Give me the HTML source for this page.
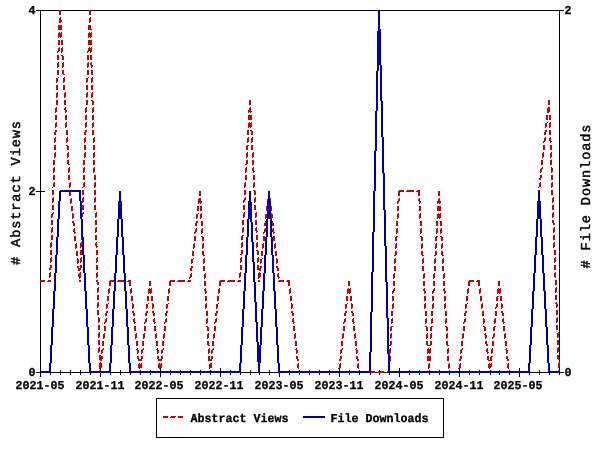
<!DOCTYPE html>
<html><head><meta charset="utf-8"><title>Usage statistics</title>
<style>
html,body{margin:0;padding:0;background:#fff;overflow:hidden}
svg{display:block}
text{font-family:"Liberation Mono","DejaVu Sans Mono",monospace;font-weight:bold;fill:#000;text-rendering:geometricPrecision;stroke:#000;stroke-width:0.3px}
text.t{font-weight:normal;stroke:#000;stroke-width:0.45px}
</style></head>
<body>
<svg width="600" height="450" viewBox="0 0 600 450">
<rect width="600" height="450" fill="#fff"/>
<g shape-rendering="crispEdges">
<path fill="#000000" d="M36 10h528v1h-528zM40 11h1v180h-1zM559 11h1v361h-1zM36 191h9v1h-9zM40 192h1v180h-1zM100 368h1v4h-1zM160 368h1v4h-1zM220 368h1v4h-1zM279 368h1v4h-1zM339 368h1v4h-1zM399 368h1v4h-1zM459 368h1v4h-1zM519 368h1v4h-1zM50 370h1v2h-1zM60 370h1v2h-1zM70 370h1v2h-1zM80 370h1v2h-1zM90 370h1v2h-1zM110 370h1v2h-1zM120 370h1v2h-1zM130 370h1v2h-1zM140 370h1v2h-1zM150 370h1v2h-1zM170 370h1v2h-1zM180 370h1v2h-1zM190 370h1v2h-1zM200 370h1v2h-1zM210 370h1v2h-1zM230 370h1v2h-1zM240 370h1v2h-1zM250 370h1v2h-1zM259 370h1v2h-1zM269 370h1v2h-1zM289 370h1v2h-1zM299 370h1v2h-1zM309 370h1v2h-1zM319 370h1v2h-1zM329 370h1v2h-1zM349 370h1v2h-1zM359 370h1v2h-1zM370 370h1v2h-1zM379 370h1v2h-1zM389 370h1v2h-1zM409 370h1v2h-1zM419 370h1v2h-1zM429 370h1v2h-1zM439 370h1v2h-1zM449 370h1v2h-1zM469 370h1v2h-1zM479 370h1v2h-1zM490 370h1v2h-1zM499 370h1v2h-1zM509 370h1v2h-1zM529 370h1v2h-1zM539 370h1v2h-1zM549 370h1v2h-1zM36 372h528v1h-528zM40 373h1v4h-1zM50 373h1v2h-1zM60 373h1v2h-1zM70 373h1v2h-1zM80 373h1v2h-1zM90 373h1v2h-1zM100 373h1v4h-1zM110 373h1v2h-1zM120 373h1v2h-1zM130 373h1v2h-1zM140 373h1v2h-1zM150 373h1v2h-1zM160 373h1v4h-1zM170 373h1v2h-1zM180 373h1v2h-1zM190 373h1v2h-1zM200 373h1v2h-1zM210 373h1v2h-1zM220 373h1v4h-1zM230 373h1v2h-1zM240 373h1v2h-1zM250 373h1v2h-1zM259 373h1v2h-1zM269 373h1v2h-1zM279 373h1v4h-1zM289 373h1v2h-1zM299 373h1v2h-1zM309 373h1v2h-1zM319 373h1v2h-1zM329 373h1v2h-1zM339 373h1v4h-1zM349 373h1v2h-1zM359 373h1v2h-1zM370 373h1v2h-1zM379 373h1v2h-1zM389 373h1v2h-1zM399 373h1v4h-1zM409 373h1v2h-1zM419 373h1v2h-1zM429 373h1v2h-1zM439 373h1v2h-1zM449 373h1v2h-1zM459 373h1v4h-1zM469 373h1v2h-1zM479 373h1v2h-1zM490 373h1v2h-1zM499 373h1v2h-1zM509 373h1v2h-1zM519 373h1v4h-1zM529 373h1v2h-1zM539 373h1v2h-1zM549 373h1v2h-1zM559 373h1v2h-1zM156 398h288v1h-288zM156 399h1v38h-1zM443 399h1v38h-1zM156 437h288v1h-288z"/>
<path fill="#cc0000" d="M59 10h2v5h-2zM89 10h2v5h-2zM60 17h1v1h-1zM90 17h1v1h-1zM59 18h2v2h-2zM89 18h2v4h-2zM59 20h3v2h-3zM59 22h2v1h-2zM89 22h1v1h-1zM58 25h4v5h-4zM88 25h3v4h-3zM88 29h4v1h-4zM59 32h1v1h-1zM61 32h1v1h-1zM89 32h1v1h-1zM91 32h1v1h-1zM58 33h4v4h-4zM88 33h4v4h-4zM58 37h1v1h-1zM60 37h1v1h-1zM88 37h1v1h-1zM90 37h1v1h-1zM58 40h2v5h-2zM61 40h2v5h-2zM88 40h4v5h-4zM59 47h1v1h-1zM62 47h1v1h-1zM89 47h1v1h-1zM91 47h1v1h-1zM58 48h2v3h-2zM61 48h2v4h-2zM88 48h4v3h-4zM57 51h2v1h-2zM87 51h2v1h-2zM90 51h2v1h-2zM57 52h1v1h-1zM61 52h1v1h-1zM87 52h1v1h-1zM90 52h1v1h-1zM57 55h2v5h-2zM61 55h2v1h-2zM87 55h2v5h-2zM90 55h2v5h-2zM62 56h2v4h-2zM58 62h1v1h-1zM63 62h1v1h-1zM88 62h1v1h-1zM91 62h1v1h-1zM57 63h2v4h-2zM62 63h2v4h-2zM87 63h2v4h-2zM90 63h2v2h-2zM91 65h2v2h-2zM57 67h1v1h-1zM62 67h1v1h-1zM87 67h1v1h-1zM91 67h1v1h-1zM57 70h2v5h-2zM62 70h2v4h-2zM87 70h2v5h-2zM91 70h2v5h-2zM63 74h2v1h-2zM58 77h1v1h-1zM64 77h1v1h-1zM88 77h1v1h-1zM92 77h1v1h-1zM56 78h2v4h-2zM63 78h2v4h-2zM86 78h2v4h-2zM91 78h2v4h-2zM56 82h1v1h-1zM63 82h1v1h-1zM86 82h1v1h-1zM91 82h1v1h-1zM56 85h2v5h-2zM63 85h2v5h-2zM86 85h2v5h-2zM91 85h2v5h-2zM57 92h1v1h-1zM65 92h1v1h-1zM87 92h1v1h-1zM92 92h1v1h-1zM56 93h2v4h-2zM64 93h2v4h-2zM86 93h2v4h-2zM91 93h2v4h-2zM56 97h1v1h-1zM64 97h1v1h-1zM86 97h1v1h-1zM91 97h1v1h-1zM56 100h2v5h-2zM64 100h2v5h-2zM86 100h2v5h-2zM91 100h2v1h-2zM249 100h2v5h-2zM548 100h2v5h-2zM92 101h2v4h-2zM56 107h1v1h-1zM65 107h1v1h-1zM86 107h1v1h-1zM93 107h1v1h-1zM250 107h1v1h-1zM548 107h2v1h-2zM55 108h2v4h-2zM64 108h2v2h-2zM85 108h2v4h-2zM92 108h2v4h-2zM249 108h2v2h-2zM547 108h3v4h-3zM65 110h2v2h-2zM248 110h3v1h-3zM248 111h4v1h-4zM55 112h1v1h-1zM65 112h1v1h-1zM85 112h1v1h-1zM92 112h1v1h-1zM248 112h1v1h-1zM250 112h1v1h-1zM547 112h2v1h-2zM55 115h2v5h-2zM65 115h2v5h-2zM85 115h2v5h-2zM92 115h2v5h-2zM248 115h4v5h-4zM546 115h2v5h-2zM549 115h2v5h-2zM56 122h1v1h-1zM66 122h1v1h-1zM86 122h1v1h-1zM93 122h1v1h-1zM249 122h1v1h-1zM251 122h1v1h-1zM547 122h1v1h-1zM550 122h1v1h-1zM55 123h2v4h-2zM65 123h2v4h-2zM85 123h2v4h-2zM92 123h2v4h-2zM248 123h4v4h-4zM545 123h2v4h-2zM549 123h2v4h-2zM55 127h1v1h-1zM65 127h1v1h-1zM85 127h1v1h-1zM92 127h1v1h-1zM248 127h1v1h-1zM250 127h1v1h-1zM545 127h1v1h-1zM549 127h1v1h-1zM55 130h2v2h-2zM66 130h2v5h-2zM85 130h2v2h-2zM92 130h2v5h-2zM247 130h2v5h-2zM250 130h2v1h-2zM545 130h2v2h-2zM549 130h2v5h-2zM251 131h2v4h-2zM54 132h2v3h-2zM84 132h2v3h-2zM544 132h2v3h-2zM55 137h1v1h-1zM67 137h1v1h-1zM85 137h1v1h-1zM94 137h1v1h-1zM248 137h1v1h-1zM252 137h1v1h-1zM545 137h1v1h-1zM550 137h1v1h-1zM54 138h2v4h-2zM66 138h2v4h-2zM84 138h2v4h-2zM93 138h2v4h-2zM247 138h2v4h-2zM251 138h2v4h-2zM544 138h2v3h-2zM549 138h2v3h-2zM543 141h2v1h-2zM550 141h2v1h-2zM54 142h1v1h-1zM66 142h1v1h-1zM84 142h1v1h-1zM93 142h1v1h-1zM247 142h1v1h-1zM251 142h1v1h-1zM543 142h1v1h-1zM550 142h1v1h-1zM54 145h2v5h-2zM66 145h2v1h-2zM84 145h2v5h-2zM93 145h2v5h-2zM247 145h2v1h-2zM251 145h2v5h-2zM543 145h2v5h-2zM550 145h2v5h-2zM67 146h2v4h-2zM246 146h2v4h-2zM55 152h1v1h-1zM68 152h1v1h-1zM85 152h1v1h-1zM94 152h1v1h-1zM247 152h1v1h-1zM253 152h1v1h-1zM543 152h1v1h-1zM551 152h1v1h-1zM54 153h2v4h-2zM67 153h2v4h-2zM84 153h2v4h-2zM93 153h2v4h-2zM246 153h2v4h-2zM252 153h2v4h-2zM542 153h2v4h-2zM550 153h2v4h-2zM54 157h1v1h-1zM67 157h1v1h-1zM84 157h1v1h-1zM93 157h1v1h-1zM246 157h1v1h-1zM252 157h1v1h-1zM542 157h1v1h-1zM550 157h1v1h-1zM53 160h2v5h-2zM67 160h2v4h-2zM83 160h2v5h-2zM93 160h2v5h-2zM246 160h2v4h-2zM252 160h2v5h-2zM541 160h2v5h-2zM550 160h2v5h-2zM68 164h2v1h-2zM245 164h2v1h-2zM54 167h1v1h-1zM69 167h1v1h-1zM84 167h1v1h-1zM94 167h1v1h-1zM246 167h1v1h-1zM253 167h1v1h-1zM542 167h1v1h-1zM551 167h1v1h-1zM53 168h2v4h-2zM68 168h2v4h-2zM83 168h2v4h-2zM93 168h2v4h-2zM245 168h2v4h-2zM252 168h2v3h-2zM541 168h2v1h-2zM551 168h2v4h-2zM540 169h2v3h-2zM253 171h2v1h-2zM53 172h1v1h-1zM68 172h1v1h-1zM83 172h1v1h-1zM93 172h1v1h-1zM245 172h1v1h-1zM253 172h1v1h-1zM540 172h1v1h-1zM551 172h1v1h-1zM53 175h2v5h-2zM68 175h2v5h-2zM83 175h2v5h-2zM94 175h2v5h-2zM245 175h2v5h-2zM253 175h2v5h-2zM540 175h2v3h-2zM551 175h2v5h-2zM539 178h2v2h-2zM54 182h1v1h-1zM70 182h1v1h-1zM84 182h1v1h-1zM95 182h1v1h-1zM245 182h1v1h-1zM254 182h1v1h-1zM540 182h1v1h-1zM552 182h1v1h-1zM53 183h2v4h-2zM69 183h2v4h-2zM83 183h2v4h-2zM94 183h2v4h-2zM244 183h2v4h-2zM253 183h2v4h-2zM539 183h2v4h-2zM551 183h2v4h-2zM52 187h1v1h-1zM69 187h1v1h-1zM82 187h1v1h-1zM94 187h1v1h-1zM244 187h1v1h-1zM253 187h1v1h-1zM538 187h1v1h-1zM551 187h1v1h-1zM52 190h2v5h-2zM69 190h2v6h-2zM82 190h2v5h-2zM94 190h2v5h-2zM244 190h2v5h-2zM253 190h2v1h-2zM399 190h5v1h-5zM407 190h7v1h-7zM417 190h3v1h-3zM538 190h2v6h-2zM551 190h2v5h-2zM199 191h2v5h-2zM254 191h2v4h-2zM268 191h2v5h-2zM398 191h6v1h-6zM406 191h8v1h-8zM416 191h4v1h-4zM438 191h2v5h-2zM398 192h2v4h-2zM418 192h2v4h-2zM53 197h1v1h-1zM83 197h1v1h-1zM95 197h1v1h-1zM245 197h1v1h-1zM255 197h1v1h-1zM553 197h1v1h-1zM52 198h2v4h-2zM71 198h1v1h-1zM82 198h2v4h-2zM94 198h2v4h-2zM199 198h2v1h-2zM244 198h2v2h-2zM254 198h2v4h-2zM268 198h1v1h-1zM270 198h1v1h-1zM399 198h1v1h-1zM419 198h1v1h-1zM439 198h1v1h-1zM539 198h1v1h-1zM552 198h2v4h-2zM70 199h2v4h-2zM198 199h3v2h-3zM267 199h4v4h-4zM398 199h2v2h-2zM418 199h2v2h-2zM438 199h2v2h-2zM538 199h2v2h-2zM243 200h2v2h-2zM198 201h4v2h-4zM397 201h2v2h-2zM419 201h2v2h-2zM437 201h4v2h-4zM537 201h2v2h-2zM52 202h1v1h-1zM82 202h1v1h-1zM94 202h1v1h-1zM243 202h1v1h-1zM254 202h1v1h-1zM552 202h1v1h-1zM70 203h1v1h-1zM198 203h1v1h-1zM200 203h1v1h-1zM267 203h1v1h-1zM269 203h1v1h-1zM397 203h1v1h-1zM419 203h1v1h-1zM437 203h1v1h-1zM439 203h1v1h-1zM537 203h1v1h-1zM52 205h2v5h-2zM82 205h2v5h-2zM94 205h2v5h-2zM243 205h2v5h-2zM254 205h2v5h-2zM552 205h2v5h-2zM71 206h2v5h-2zM197 206h2v5h-2zM200 206h2v5h-2zM266 206h2v5h-2zM270 206h2v5h-2zM397 206h2v5h-2zM419 206h2v5h-2zM437 206h4v5h-4zM537 206h2v5h-2zM53 212h1v1h-1zM83 212h1v1h-1zM96 212h1v1h-1zM244 212h1v1h-1zM256 212h1v1h-1zM553 212h1v1h-1zM52 213h2v1h-2zM72 213h1v1h-1zM82 213h2v1h-2zM95 213h2v4h-2zM198 213h1v1h-1zM201 213h1v1h-1zM243 213h2v4h-2zM255 213h2v4h-2zM267 213h1v1h-1zM271 213h1v1h-1zM398 213h1v1h-1zM420 213h1v1h-1zM438 213h1v1h-1zM440 213h1v1h-1zM538 213h1v1h-1zM552 213h2v4h-2zM51 214h2v3h-2zM72 214h2v4h-2zM81 214h2v3h-2zM196 214h2v4h-2zM200 214h2v4h-2zM265 214h2v4h-2zM271 214h2v4h-2zM397 214h2v4h-2zM419 214h2v4h-2zM437 214h4v4h-4zM537 214h2v4h-2zM51 217h1v1h-1zM81 217h1v1h-1zM95 217h1v1h-1zM243 217h1v1h-1zM255 217h1v1h-1zM552 217h1v1h-1zM72 218h1v1h-1zM196 218h1v1h-1zM200 218h1v1h-1zM265 218h1v1h-1zM271 218h1v1h-1zM397 218h1v1h-1zM419 218h1v1h-1zM437 218h1v1h-1zM439 218h1v1h-1zM537 218h1v1h-1zM51 220h2v5h-2zM81 220h2v5h-2zM95 220h2v5h-2zM242 220h2v5h-2zM255 220h2v5h-2zM552 220h2v3h-2zM72 221h2v2h-2zM196 221h2v2h-2zM201 221h2v5h-2zM265 221h2v2h-2zM271 221h2v2h-2zM396 221h2v5h-2zM420 221h2v5h-2zM436 221h2v5h-2zM440 221h2v5h-2zM536 221h2v5h-2zM73 223h2v3h-2zM195 223h2v3h-2zM264 223h2v3h-2zM272 223h2v3h-2zM553 223h2v2h-2zM52 227h1v1h-1zM82 227h1v1h-1zM96 227h1v1h-1zM243 227h1v1h-1zM256 227h1v1h-1zM554 227h1v1h-1zM51 228h2v4h-2zM74 228h1v1h-1zM81 228h2v4h-2zM95 228h2v4h-2zM196 228h1v1h-1zM202 228h1v1h-1zM242 228h2v4h-2zM255 228h2v3h-2zM265 228h1v1h-1zM273 228h1v1h-1zM397 228h1v1h-1zM421 228h1v1h-1zM437 228h1v1h-1zM441 228h1v1h-1zM537 228h1v1h-1zM553 228h2v4h-2zM73 229h2v3h-2zM195 229h2v3h-2zM201 229h2v4h-2zM264 229h2v3h-2zM272 229h2v3h-2zM396 229h2v4h-2zM420 229h2v4h-2zM436 229h2v4h-2zM440 229h2v4h-2zM536 229h2v4h-2zM256 231h2v1h-2zM51 232h1v1h-1zM74 232h2v1h-2zM81 232h1v1h-1zM95 232h1v1h-1zM194 232h2v1h-2zM242 232h1v1h-1zM256 232h1v1h-1zM263 232h2v1h-2zM273 232h2v1h-2zM553 232h1v1h-1zM74 233h1v1h-1zM194 233h1v1h-1zM201 233h1v1h-1zM263 233h1v1h-1zM273 233h1v1h-1zM396 233h1v1h-1zM420 233h1v1h-1zM436 233h1v1h-1zM440 233h1v1h-1zM536 233h1v1h-1zM51 235h2v5h-2zM81 235h2v5h-2zM95 235h2v5h-2zM242 235h2v1h-2zM256 235h2v5h-2zM553 235h2v5h-2zM74 236h2v5h-2zM194 236h2v5h-2zM201 236h2v1h-2zM241 236h2v4h-2zM263 236h2v5h-2zM273 236h2v5h-2zM396 236h2v1h-2zM420 236h2v1h-2zM436 236h2v1h-2zM440 236h2v1h-2zM536 236h2v1h-2zM202 237h2v4h-2zM395 237h2v4h-2zM421 237h2v4h-2zM435 237h2v4h-2zM441 237h2v4h-2zM535 237h2v4h-2zM51 242h1v1h-1zM81 242h1v1h-1zM96 242h1v1h-1zM242 242h1v1h-1zM257 242h1v1h-1zM554 242h1v1h-1zM50 243h2v4h-2zM76 243h1v1h-1zM80 243h2v4h-2zM95 243h2v3h-2zM194 243h1v1h-1zM203 243h1v1h-1zM241 243h2v4h-2zM256 243h2v4h-2zM263 243h1v1h-1zM275 243h1v1h-1zM396 243h1v1h-1zM422 243h1v1h-1zM436 243h1v1h-1zM442 243h1v1h-1zM536 243h1v1h-1zM553 243h2v4h-2zM75 244h2v4h-2zM193 244h2v4h-2zM202 244h2v4h-2zM262 244h2v4h-2zM274 244h2v4h-2zM395 244h2v4h-2zM421 244h2v4h-2zM435 244h2v4h-2zM441 244h2v4h-2zM535 244h2v4h-2zM96 246h2v1h-2zM50 247h1v1h-1zM80 247h1v1h-1zM96 247h1v1h-1zM241 247h1v1h-1zM256 247h1v1h-1zM553 247h1v1h-1zM75 248h1v1h-1zM193 248h1v1h-1zM202 248h1v1h-1zM262 248h1v1h-1zM274 248h1v1h-1zM395 248h1v1h-1zM421 248h1v1h-1zM435 248h1v1h-1zM441 248h1v1h-1zM535 248h1v1h-1zM50 250h2v5h-2zM80 250h2v5h-2zM96 250h2v5h-2zM241 250h2v4h-2zM256 250h2v1h-2zM554 250h2v5h-2zM76 251h2v5h-2zM192 251h2v5h-2zM202 251h2v4h-2zM257 251h2v4h-2zM261 251h2v5h-2zM275 251h2v5h-2zM395 251h2v4h-2zM421 251h2v4h-2zM435 251h2v4h-2zM441 251h2v4h-2zM535 251h2v4h-2zM240 254h2v1h-2zM203 255h2v1h-2zM394 255h2v1h-2zM422 255h2v1h-2zM434 255h2v1h-2zM442 255h2v1h-2zM534 255h2v1h-2zM51 257h1v1h-1zM81 257h1v1h-1zM97 257h1v1h-1zM241 257h1v1h-1zM258 257h1v1h-1zM555 257h1v1h-1zM50 258h2v4h-2zM77 258h1v1h-1zM80 258h2v4h-2zM96 258h2v4h-2zM193 258h1v1h-1zM204 258h1v1h-1zM240 258h2v4h-2zM257 258h2v4h-2zM262 258h1v1h-1zM276 258h1v1h-1zM395 258h1v1h-1zM423 258h1v1h-1zM435 258h1v1h-1zM443 258h1v1h-1zM535 258h1v1h-1zM554 258h2v4h-2zM77 259h2v4h-2zM191 259h2v4h-2zM203 259h2v4h-2zM260 259h2v4h-2zM276 259h2v4h-2zM394 259h2v4h-2zM422 259h2v4h-2zM434 259h2v4h-2zM442 259h2v4h-2zM534 259h2v4h-2zM50 262h1v1h-1zM80 262h1v1h-1zM96 262h1v1h-1zM240 262h1v1h-1zM257 262h1v1h-1zM554 262h1v1h-1zM77 263h1v1h-1zM191 263h1v1h-1zM203 263h1v1h-1zM260 263h1v1h-1zM276 263h1v1h-1zM394 263h1v1h-1zM422 263h1v1h-1zM434 263h1v1h-1zM442 263h1v1h-1zM534 263h1v1h-1zM50 265h2v3h-2zM80 265h2v3h-2zM96 265h2v5h-2zM240 265h2v5h-2zM257 265h2v3h-2zM554 265h2v5h-2zM77 266h2v2h-2zM191 266h2v2h-2zM203 266h2v5h-2zM260 266h2v2h-2zM276 266h2v2h-2zM394 266h2v5h-2zM422 266h2v5h-2zM434 266h2v5h-2zM442 266h2v5h-2zM534 266h2v5h-2zM49 268h2v2h-2zM78 268h3v2h-3zM190 268h2v3h-2zM257 268h4v2h-4zM277 268h2v3h-2zM78 270h2v1h-2zM259 270h2v1h-2zM50 272h1v1h-1zM80 272h1v1h-1zM97 272h1v1h-1zM240 272h1v1h-1zM259 272h1v1h-1zM555 272h1v1h-1zM49 273h2v4h-2zM79 273h2v1h-2zM96 273h2v4h-2zM191 273h1v1h-1zM205 273h1v1h-1zM239 273h2v4h-2zM258 273h3v4h-3zM278 273h1v1h-1zM394 273h1v1h-1zM424 273h1v1h-1zM434 273h1v1h-1zM444 273h1v1h-1zM534 273h1v1h-1zM554 273h2v4h-2zM78 274h3v3h-3zM190 274h2v3h-2zM204 274h2v4h-2zM277 274h2v3h-2zM393 274h2v4h-2zM423 274h2v4h-2zM433 274h2v4h-2zM443 274h2v4h-2zM533 274h2v4h-2zM49 277h1v1h-1zM79 277h2v1h-2zM96 277h1v1h-1zM189 277h2v1h-2zM239 277h1v1h-1zM258 277h2v1h-2zM278 277h2v1h-2zM555 277h1v1h-1zM79 278h1v1h-1zM189 278h1v1h-1zM204 278h1v1h-1zM258 278h1v1h-1zM278 278h1v1h-1zM393 278h1v1h-1zM423 278h1v1h-1zM433 278h1v1h-1zM443 278h1v1h-1zM533 278h1v1h-1zM40 280h5v2h-5zM48 280h3v1h-3zM79 280h2v2h-2zM96 280h2v2h-2zM110 280h5v1h-5zM118 280h7v1h-7zM128 280h3v1h-3zM170 280h5v1h-5zM178 280h7v1h-7zM188 280h3v1h-3zM220 280h5v1h-5zM228 280h7v1h-7zM238 280h3v1h-3zM258 280h2v2h-2zM279 280h5v1h-5zM287 280h3v1h-3zM469 280h5v1h-5zM477 280h3v1h-3zM555 280h2v5h-2zM47 281h4v1h-4zM109 281h6v1h-6zM117 281h8v1h-8zM127 281h4v1h-4zM149 281h2v5h-2zM169 281h6v1h-6zM177 281h8v1h-8zM187 281h4v1h-4zM204 281h2v5h-2zM219 281h6v1h-6zM227 281h8v1h-8zM237 281h4v1h-4zM278 281h6v1h-6zM286 281h4v1h-4zM348 281h2v5h-2zM393 281h2v5h-2zM423 281h2v5h-2zM433 281h2v5h-2zM443 281h2v5h-2zM468 281h6v1h-6zM476 281h4v1h-4zM498 281h2v5h-2zM533 281h2v5h-2zM97 282h2v3h-2zM109 282h2v4h-2zM129 282h2v4h-2zM169 282h2v4h-2zM219 282h2v4h-2zM288 282h2v4h-2zM468 282h2v4h-2zM478 282h2v4h-2zM98 287h1v1h-1zM556 287h1v1h-1zM97 288h2v4h-2zM109 288h1v1h-1zM131 288h1v1h-1zM149 288h1v1h-1zM151 288h1v1h-1zM169 288h1v1h-1zM205 288h1v1h-1zM219 288h1v1h-1zM290 288h1v1h-1zM348 288h1v1h-1zM350 288h1v1h-1zM394 288h1v1h-1zM424 288h1v1h-1zM434 288h1v1h-1zM444 288h1v1h-1zM468 288h1v1h-1zM480 288h1v1h-1zM498 288h1v1h-1zM500 288h1v1h-1zM534 288h1v1h-1zM555 288h2v4h-2zM108 289h2v4h-2zM130 289h2v4h-2zM148 289h4v4h-4zM168 289h2v4h-2zM204 289h2v2h-2zM218 289h2v4h-2zM289 289h2v4h-2zM347 289h4v4h-4zM393 289h2v2h-2zM423 289h2v2h-2zM433 289h2v2h-2zM443 289h2v2h-2zM467 289h2v4h-2zM479 289h2v4h-2zM497 289h4v4h-4zM533 289h2v2h-2zM205 291h2v2h-2zM392 291h2v2h-2zM424 291h2v2h-2zM432 291h2v2h-2zM444 291h2v2h-2zM532 291h2v2h-2zM97 292h1v1h-1zM555 292h1v1h-1zM108 293h1v1h-1zM130 293h1v1h-1zM148 293h1v1h-1zM150 293h1v1h-1zM168 293h1v1h-1zM205 293h1v1h-1zM218 293h1v1h-1zM289 293h1v1h-1zM347 293h1v1h-1zM349 293h1v1h-1zM392 293h1v1h-1zM424 293h1v1h-1zM432 293h1v1h-1zM444 293h1v1h-1zM467 293h1v1h-1zM479 293h1v1h-1zM497 293h1v1h-1zM499 293h1v1h-1zM532 293h1v1h-1zM97 295h2v5h-2zM555 295h2v5h-2zM107 296h2v5h-2zM131 296h2v5h-2zM147 296h2v5h-2zM151 296h2v5h-2zM167 296h2v5h-2zM205 296h2v5h-2zM217 296h2v5h-2zM290 296h2v5h-2zM346 296h2v5h-2zM350 296h2v5h-2zM392 296h2v5h-2zM424 296h2v5h-2zM432 296h2v5h-2zM444 296h2v5h-2zM466 296h2v5h-2zM480 296h2v5h-2zM497 296h2v1h-2zM500 296h2v5h-2zM532 296h2v5h-2zM496 297h2v4h-2zM98 302h1v1h-1zM556 302h1v1h-1zM97 303h2v4h-2zM108 303h1v1h-1zM132 303h1v1h-1zM148 303h1v1h-1zM152 303h1v1h-1zM168 303h1v1h-1zM206 303h1v1h-1zM218 303h1v1h-1zM291 303h1v1h-1zM347 303h1v1h-1zM351 303h1v1h-1zM393 303h1v1h-1zM425 303h1v1h-1zM433 303h1v1h-1zM445 303h1v1h-1zM467 303h1v1h-1zM482 303h1v1h-1zM497 303h1v1h-1zM501 303h1v1h-1zM533 303h1v1h-1zM555 303h2v1h-2zM106 304h2v4h-2zM132 304h2v4h-2zM146 304h2v4h-2zM152 304h2v4h-2zM166 304h2v4h-2zM205 304h2v4h-2zM216 304h2v4h-2zM291 304h2v4h-2zM345 304h2v4h-2zM351 304h2v4h-2zM392 304h2v4h-2zM424 304h2v4h-2zM432 304h2v4h-2zM444 304h2v4h-2zM465 304h2v4h-2zM481 304h2v4h-2zM496 304h2v3h-2zM501 304h2v4h-2zM532 304h2v4h-2zM556 304h2v3h-2zM97 307h1v1h-1zM495 307h2v1h-2zM556 307h1v1h-1zM106 308h1v1h-1zM132 308h1v1h-1zM146 308h1v1h-1zM152 308h1v1h-1zM166 308h1v1h-1zM205 308h1v1h-1zM216 308h1v1h-1zM291 308h1v1h-1zM345 308h1v1h-1zM351 308h1v1h-1zM392 308h1v1h-1zM424 308h1v1h-1zM432 308h1v1h-1zM444 308h1v1h-1zM465 308h1v1h-1zM481 308h1v1h-1zM495 308h1v1h-1zM501 308h1v1h-1zM532 308h1v1h-1zM97 310h2v5h-2zM556 310h2v5h-2zM106 311h2v2h-2zM132 311h2v2h-2zM146 311h2v2h-2zM152 311h2v2h-2zM166 311h2v2h-2zM206 311h2v5h-2zM216 311h2v2h-2zM291 311h2v2h-2zM345 311h2v2h-2zM351 311h2v2h-2zM391 311h2v5h-2zM425 311h2v5h-2zM431 311h2v5h-2zM445 311h2v5h-2zM465 311h2v2h-2zM482 311h2v5h-2zM495 311h2v5h-2zM501 311h2v2h-2zM531 311h2v5h-2zM105 313h2v3h-2zM133 313h2v3h-2zM145 313h2v3h-2zM153 313h2v3h-2zM165 313h2v3h-2zM215 313h2v3h-2zM292 313h2v3h-2zM344 313h2v3h-2zM352 313h2v3h-2zM464 313h2v3h-2zM502 313h2v3h-2zM98 317h1v1h-1zM557 317h1v1h-1zM98 318h2v4h-2zM106 318h1v1h-1zM134 318h1v1h-1zM146 318h1v1h-1zM154 318h1v1h-1zM166 318h1v1h-1zM207 318h1v1h-1zM216 318h1v1h-1zM293 318h1v1h-1zM345 318h1v1h-1zM353 318h1v1h-1zM392 318h1v1h-1zM426 318h1v1h-1zM432 318h1v1h-1zM446 318h1v1h-1zM465 318h1v1h-1zM483 318h1v1h-1zM495 318h1v1h-1zM503 318h1v1h-1zM532 318h1v1h-1zM556 318h2v4h-2zM105 319h2v3h-2zM133 319h2v3h-2zM145 319h2v3h-2zM153 319h2v3h-2zM165 319h2v3h-2zM206 319h2v4h-2zM215 319h2v3h-2zM292 319h2v3h-2zM344 319h2v3h-2zM352 319h2v3h-2zM391 319h2v4h-2zM425 319h2v4h-2zM431 319h2v4h-2zM445 319h2v4h-2zM464 319h2v3h-2zM483 319h2v4h-2zM494 319h2v4h-2zM502 319h2v3h-2zM531 319h2v4h-2zM98 322h1v1h-1zM104 322h2v1h-2zM134 322h2v1h-2zM144 322h2v1h-2zM154 322h2v1h-2zM164 322h2v1h-2zM214 322h2v1h-2zM293 322h2v1h-2zM343 322h2v1h-2zM353 322h2v1h-2zM463 322h2v1h-2zM503 322h2v1h-2zM556 322h1v1h-1zM104 323h1v1h-1zM134 323h1v1h-1zM144 323h1v1h-1zM154 323h1v1h-1zM164 323h1v1h-1zM206 323h1v1h-1zM214 323h1v1h-1zM293 323h1v1h-1zM343 323h1v1h-1zM353 323h1v1h-1zM391 323h1v1h-1zM425 323h1v1h-1zM431 323h1v1h-1zM445 323h1v1h-1zM463 323h1v1h-1zM483 323h1v1h-1zM494 323h1v1h-1zM503 323h1v1h-1zM531 323h1v1h-1zM98 325h2v5h-2zM556 325h2v5h-2zM104 326h2v5h-2zM134 326h2v5h-2zM144 326h2v5h-2zM154 326h2v5h-2zM164 326h2v5h-2zM206 326h2v1h-2zM214 326h2v5h-2zM293 326h2v5h-2zM343 326h2v5h-2zM353 326h2v5h-2zM391 326h2v1h-2zM425 326h2v1h-2zM431 326h2v1h-2zM445 326h2v1h-2zM463 326h2v5h-2zM483 326h2v1h-2zM494 326h2v1h-2zM503 326h2v5h-2zM531 326h2v1h-2zM207 327h2v4h-2zM390 327h2v4h-2zM426 327h2v4h-2zM430 327h2v4h-2zM446 327h2v4h-2zM484 327h2v4h-2zM493 327h2v4h-2zM530 327h2v4h-2zM99 332h1v1h-1zM558 332h1v1h-1zM98 333h2v4h-2zM104 333h1v1h-1zM136 333h1v1h-1zM144 333h1v1h-1zM156 333h1v1h-1zM164 333h1v1h-1zM208 333h1v1h-1zM214 333h1v1h-1zM295 333h1v1h-1zM343 333h1v1h-1zM355 333h1v1h-1zM391 333h1v1h-1zM427 333h1v1h-1zM431 333h1v1h-1zM447 333h1v1h-1zM463 333h1v1h-1zM485 333h1v1h-1zM494 333h1v1h-1zM505 333h1v1h-1zM531 333h1v1h-1zM557 333h2v4h-2zM103 334h2v4h-2zM135 334h2v4h-2zM143 334h2v4h-2zM155 334h2v4h-2zM163 334h2v4h-2zM207 334h2v4h-2zM213 334h2v4h-2zM294 334h2v4h-2zM342 334h2v4h-2zM354 334h2v4h-2zM390 334h2v4h-2zM426 334h2v4h-2zM430 334h2v4h-2zM446 334h2v4h-2zM462 334h2v4h-2zM484 334h2v1h-2zM493 334h2v3h-2zM504 334h2v4h-2zM530 334h2v4h-2zM485 335h2v3h-2zM98 337h1v1h-1zM492 337h2v1h-2zM557 337h1v1h-1zM103 338h1v1h-1zM135 338h1v1h-1zM143 338h1v1h-1zM155 338h1v1h-1zM163 338h1v1h-1zM207 338h1v1h-1zM213 338h1v1h-1zM294 338h1v1h-1zM342 338h1v1h-1zM354 338h1v1h-1zM390 338h1v1h-1zM426 338h1v1h-1zM430 338h1v1h-1zM446 338h1v1h-1zM462 338h1v1h-1zM485 338h1v1h-1zM492 338h1v1h-1zM504 338h1v1h-1zM530 338h1v1h-1zM98 340h2v5h-2zM557 340h2v5h-2zM102 341h2v5h-2zM136 341h2v5h-2zM142 341h2v5h-2zM156 341h2v5h-2zM162 341h2v5h-2zM207 341h2v4h-2zM212 341h2v5h-2zM295 341h2v5h-2zM341 341h2v5h-2zM355 341h2v5h-2zM390 341h2v4h-2zM426 341h2v4h-2zM430 341h2v4h-2zM446 341h2v4h-2zM461 341h2v5h-2zM485 341h2v3h-2zM492 341h2v5h-2zM505 341h2v5h-2zM530 341h2v4h-2zM486 344h2v2h-2zM208 345h2v1h-2zM389 345h2v1h-2zM427 345h4v1h-4zM447 345h2v1h-2zM529 345h2v1h-2zM99 347h1v1h-1zM558 347h1v1h-1zM98 348h2v4h-2zM103 348h1v1h-1zM137 348h1v1h-1zM143 348h1v1h-1zM157 348h1v1h-1zM163 348h1v1h-1zM209 348h1v1h-1zM213 348h1v1h-1zM296 348h1v1h-1zM342 348h1v1h-1zM356 348h1v1h-1zM390 348h1v1h-1zM428 348h1v1h-1zM430 348h1v1h-1zM448 348h1v1h-1zM462 348h1v1h-1zM487 348h1v1h-1zM492 348h1v1h-1zM506 348h1v1h-1zM530 348h1v1h-1zM557 348h2v4h-2zM102 349h2v1h-2zM136 349h2v1h-2zM142 349h2v1h-2zM156 349h2v1h-2zM162 349h2v1h-2zM208 349h2v4h-2zM212 349h2v1h-2zM295 349h2v1h-2zM341 349h2v1h-2zM355 349h2v1h-2zM389 349h2v4h-2zM427 349h4v4h-4zM447 349h2v4h-2zM461 349h2v1h-2zM486 349h2v3h-2zM491 349h2v4h-2zM505 349h2v1h-2zM529 349h2v4h-2zM101 350h2v3h-2zM137 350h2v3h-2zM141 350h2v3h-2zM157 350h2v3h-2zM161 350h2v3h-2zM211 350h2v3h-2zM296 350h2v3h-2zM340 350h2v3h-2zM356 350h2v3h-2zM460 350h2v3h-2zM506 350h2v3h-2zM98 352h1v1h-1zM487 352h2v1h-2zM557 352h1v1h-1zM101 353h1v1h-1zM137 353h1v1h-1zM141 353h1v1h-1zM157 353h1v1h-1zM161 353h1v1h-1zM208 353h1v1h-1zM211 353h1v1h-1zM296 353h1v1h-1zM340 353h1v1h-1zM356 353h1v1h-1zM389 353h1v1h-1zM427 353h1v1h-1zM429 353h1v1h-1zM447 353h1v1h-1zM460 353h1v1h-1zM487 353h1v1h-1zM491 353h1v1h-1zM506 353h1v1h-1zM529 353h1v1h-1zM99 355h2v1h-2zM557 355h2v4h-2zM99 356h4v3h-4zM137 356h2v3h-2zM141 356h2v3h-2zM157 356h2v3h-2zM161 356h2v3h-2zM208 356h2v3h-2zM211 356h2v3h-2zM296 356h2v3h-2zM340 356h2v3h-2zM356 356h2v3h-2zM389 356h2v5h-2zM427 356h4v5h-4zM447 356h2v5h-2zM460 356h2v3h-2zM487 356h2v4h-2zM491 356h2v1h-2zM506 356h2v3h-2zM529 356h2v5h-2zM490 357h2v3h-2zM99 359h3v1h-3zM138 359h4v2h-4zM158 359h4v2h-4zM208 359h4v2h-4zM297 359h2v2h-2zM339 359h2v2h-2zM357 359h2v2h-2zM459 359h2v2h-2zM507 359h2v2h-2zM558 359h2v1h-2zM100 360h2v1h-2zM488 360h4v1h-4zM100 362h1v1h-1zM559 362h1v1h-1zM99 363h3v5h-3zM139 363h1v1h-1zM141 363h1v1h-1zM159 363h1v1h-1zM161 363h1v1h-1zM210 363h2v1h-2zM298 363h1v1h-1zM340 363h1v1h-1zM358 363h1v1h-1zM389 363h1v1h-1zM429 363h1v1h-1zM449 363h1v1h-1zM460 363h1v1h-1zM489 363h1v1h-1zM491 363h1v1h-1zM508 363h1v1h-1zM529 363h1v1h-1zM558 363h2v4h-2zM138 364h4v4h-4zM158 364h4v4h-4zM209 364h3v4h-3zM297 364h2v4h-2zM339 364h2v4h-2zM357 364h2v4h-2zM388 364h2v4h-2zM428 364h2v4h-2zM448 364h2v4h-2zM459 364h2v4h-2zM488 364h4v3h-4zM507 364h2v4h-2zM528 364h2v4h-2zM488 367h3v1h-3zM558 367h1v1h-1zM99 368h1v1h-1zM139 368h1v1h-1zM159 368h1v1h-1zM209 368h1v1h-1zM298 368h1v1h-1zM338 368h1v1h-1zM358 368h1v1h-1zM388 368h1v1h-1zM428 368h1v1h-1zM448 368h1v1h-1zM458 368h1v1h-1zM489 368h1v1h-1zM508 368h1v1h-1zM528 368h1v1h-1zM99 370h2v3h-2zM558 370h2v3h-2zM139 371h2v2h-2zM159 371h2v2h-2zM209 371h2v2h-2zM298 371h6v2h-6zM307 371h7v1h-7zM317 371h7v1h-7zM327 371h7v1h-7zM337 371h3v1h-3zM358 371h6v2h-6zM367 371h8v1h-8zM378 371h6v1h-6zM387 371h3v1h-3zM428 371h2v2h-2zM448 371h6v2h-6zM457 371h3v1h-3zM489 371h2v2h-2zM508 371h6v2h-6zM517 371h7v1h-7zM527 371h3v1h-3zM306 372h8v1h-8zM316 372h8v1h-8zM326 372h8v1h-8zM336 372h4v1h-4zM366 372h9v1h-9zM377 372h7v1h-7zM386 372h4v1h-4zM456 372h4v1h-4zM516 372h8v1h-8zM526 372h4v1h-4zM163 416h5v2h-5zM171 416h5v1h-5zM178 416h5v2h-5zM170 417h5v1h-5z"/>
<path fill="#0000aa" d="M378 10h2v19h-2zM378 29h3v2h-3zM377 31h4v34h-4zM377 65h2v6h-2zM380 65h2v36h-2zM376 71h2v40h-2zM381 101h2v36h-2zM375 111h2v40h-2zM382 137h2v36h-2zM374 151h2v40h-2zM383 173h2v37h-2zM60 190h21v1h-21zM59 191h22v1h-22zM119 191h2v10h-2zM249 191h2v10h-2zM268 191h2v10h-2zM373 191h2v41h-2zM538 191h2v10h-2zM59 192h2v9h-2zM79 192h2v9h-2zM58 201h2v18h-2zM80 201h2v18h-2zM118 201h4v18h-4zM248 201h3v1h-3zM267 201h4v18h-4zM537 201h4v18h-4zM248 202h4v17h-4zM384 210h2v36h-2zM57 219h2v18h-2zM81 219h2v18h-2zM117 219h2v18h-2zM121 219h2v18h-2zM247 219h2v18h-2zM250 219h2v3h-2zM266 219h2v18h-2zM270 219h2v18h-2zM536 219h2v18h-2zM540 219h2v18h-2zM251 222h2v20h-2zM372 232h2v40h-2zM56 237h2v18h-2zM82 237h2v18h-2zM116 237h2v18h-2zM122 237h2v18h-2zM246 237h2v18h-2zM265 237h2v18h-2zM271 237h2v18h-2zM535 237h2v18h-2zM541 237h2v18h-2zM252 242h2v20h-2zM385 246h2v36h-2zM55 255h2v18h-2zM83 255h2v18h-2zM115 255h2v18h-2zM123 255h2v18h-2zM245 255h2v18h-2zM264 255h2v18h-2zM272 255h2v18h-2zM534 255h2v18h-2zM542 255h2v18h-2zM253 262h2v20h-2zM371 272h2v40h-2zM54 273h2v18h-2zM84 273h2v18h-2zM114 273h2v18h-2zM124 273h2v18h-2zM244 273h2v18h-2zM263 273h2v18h-2zM273 273h2v18h-2zM533 273h2v18h-2zM543 273h2v18h-2zM254 282h2v20h-2zM386 282h2v36h-2zM53 291h2v18h-2zM85 291h2v18h-2zM113 291h2v18h-2zM125 291h2v18h-2zM243 291h2v18h-2zM262 291h2v18h-2zM274 291h2v18h-2zM532 291h2v18h-2zM544 291h2v18h-2zM255 302h2v20h-2zM52 309h2v18h-2zM86 309h2v18h-2zM112 309h2v18h-2zM126 309h2v18h-2zM242 309h2v18h-2zM261 309h2v18h-2zM275 309h2v18h-2zM531 309h2v18h-2zM545 309h2v18h-2zM370 312h2v40h-2zM387 318h2v36h-2zM256 322h2v20h-2zM51 327h2v18h-2zM87 327h2v18h-2zM111 327h2v18h-2zM127 327h2v18h-2zM241 327h2v18h-2zM260 327h2v18h-2zM276 327h2v18h-2zM530 327h2v18h-2zM546 327h2v18h-2zM257 342h2v3h-2zM50 345h2v18h-2zM88 345h2v18h-2zM110 345h2v18h-2zM128 345h2v18h-2zM240 345h2v18h-2zM257 345h4v17h-4zM277 345h2v18h-2zM529 345h2v18h-2zM547 345h2v18h-2zM369 352h2v19h-2zM388 354h2v17h-2zM258 362h3v1h-3zM49 363h2v8h-2zM89 363h2v8h-2zM109 363h2v8h-2zM129 363h2v8h-2zM239 363h2v8h-2zM258 363h2v10h-2zM278 363h2v8h-2zM528 363h2v8h-2zM548 363h2v8h-2zM40 371h11v2h-11zM89 371h22v2h-22zM129 371h112v2h-112zM278 371h93v2h-93zM388 371h142v2h-142zM548 371h12v2h-12zM303 416h22v2h-22z"/>
</g>
<text x="28.5" y="14" font-size="12" textLength="7" lengthAdjust="spacingAndGlyphs" text-anchor="start">4</text>
<text x="28.5" y="195" font-size="12" textLength="7" lengthAdjust="spacingAndGlyphs" text-anchor="start">2</text>
<text x="28.5" y="376" font-size="12" textLength="7" lengthAdjust="spacingAndGlyphs" text-anchor="start">0</text>
<text x="564.5" y="14" font-size="12" textLength="7" lengthAdjust="spacingAndGlyphs" text-anchor="start">2</text>
<text x="564.5" y="376" font-size="12" textLength="7" lengthAdjust="spacingAndGlyphs" text-anchor="start">0</text>
<text x="15.5" y="389" font-size="12" textLength="49" lengthAdjust="spacingAndGlyphs" text-anchor="start">2021-05</text>
<text x="75.5" y="389" font-size="12" textLength="49" lengthAdjust="spacingAndGlyphs" text-anchor="start">2021-11</text>
<text x="134.5" y="389" font-size="12" textLength="49" lengthAdjust="spacingAndGlyphs" text-anchor="start">2022-05</text>
<text x="194.5" y="389" font-size="12" textLength="49" lengthAdjust="spacingAndGlyphs" text-anchor="start">2022-11</text>
<text x="254.5" y="389" font-size="12" textLength="49" lengthAdjust="spacingAndGlyphs" text-anchor="start">2023-05</text>
<text x="314.5" y="389" font-size="12" textLength="49" lengthAdjust="spacingAndGlyphs" text-anchor="start">2023-11</text>
<text x="374.5" y="389" font-size="12" textLength="49" lengthAdjust="spacingAndGlyphs" text-anchor="start">2024-05</text>
<text x="434.5" y="389" font-size="12" textLength="49" lengthAdjust="spacingAndGlyphs" text-anchor="start">2024-11</text>
<text x="493.5" y="389" font-size="12" textLength="49" lengthAdjust="spacingAndGlyphs" text-anchor="start">2025-05</text>
<text x="190.5" y="422" font-size="12" textLength="98" lengthAdjust="spacingAndGlyphs" text-anchor="start">Abstract Views</text>
<text x="330.5" y="422" font-size="12" textLength="98" lengthAdjust="spacingAndGlyphs" text-anchor="start">File Downloads</text>
<text x="20" y="265" font-size="13.6" textLength="144" lengthAdjust="spacing" text-anchor="start" transform="rotate(-90 20 265)" class="t"># Abstract Views</text>
<text x="590" y="268.5" font-size="13.6" textLength="144" lengthAdjust="spacing" text-anchor="start" transform="rotate(-90 590 268.5)" class="t"># File Downloads</text>
</svg>
</body></html>
